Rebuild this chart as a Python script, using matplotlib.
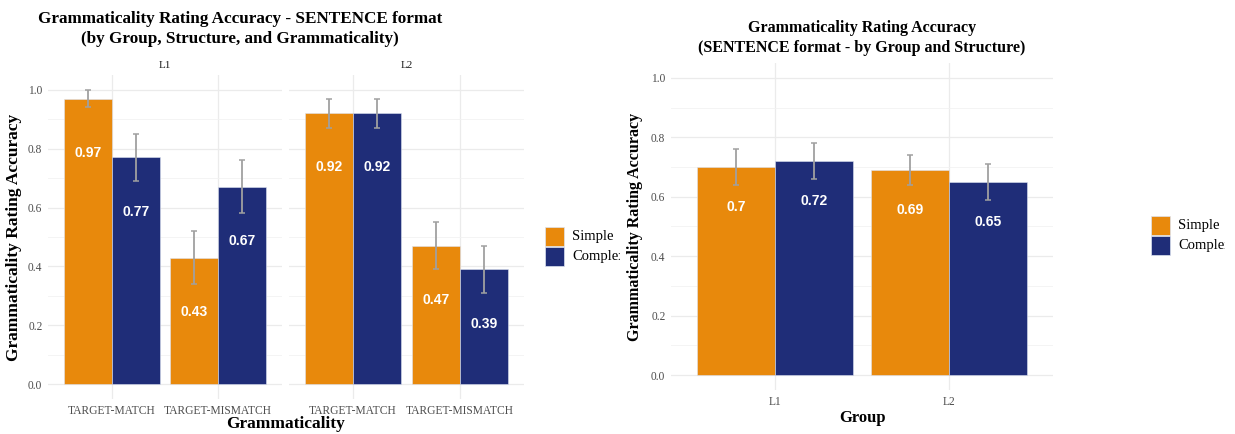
import matplotlib
matplotlib.use("Agg")
import matplotlib.pyplot as plt
import matplotlib.patches as mpatches
from matplotlib.transforms import Bbox
import numpy as np

# ---- data ----
structures = ["Simple", "Complex"]
colors = ["#E8890C", "#1F2D78"]

gram_levels = ["TARGET-MATCH", "TARGET-MISMATCH"]
l1_means = [[0.97, 0.43], [0.77, 0.67]]      # [structure][grammaticality]
l1_lo = [[0.94, 0.34], [0.69, 0.58]]
l1_hi = [[1.00, 0.52], [0.85, 0.76]]
l2_means = [[0.92, 0.47], [0.92, 0.39]]
l2_lo = [[0.87, 0.39], [0.87, 0.31]]
l2_hi = [[0.97, 0.55], [0.97, 0.47]]

groups = ["L1", "L2"]
grp_means = [[0.70, 0.69], [0.72, 0.65]]     # [structure][group]
grp_lo = [[0.64, 0.64], [0.66, 0.59]]
grp_hi = [[0.76, 0.74], [0.78, 0.71]]

W, H = 1235, 434
plt.rcParams['font.family'] = ['Liberation Serif', 'DejaVu Serif']
fig = plt.figure(figsize=(W / 100, H / 100), dpi=100)


def px_axes(x0, x1, y0, y1):
    return fig.add_axes([x0 / W, 1 - y1 / H, (x1 - x0) / W, (y1 - y0) / H])


def style(ax, ncat, show_y):
    ax.set_xlim(0.4, ncat + 0.6)
    ax.set_ylim(-0.05, 1.05)
    for s in ax.spines.values():
        s.set_visible(False)
    ax.set_yticks(np.arange(0, 1.01, 0.2))
    ax.set_yticks(np.arange(0.1, 1.0, 0.2), minor=True)
    ax.grid(True, which="major", color="#EBEBEB", lw=0.9)
    ax.grid(True, which="minor", axis="y", color="#F2F2F2", lw=0.6)
    ax.set_axisbelow(True)
    ax.tick_params(length=0, which="both", labelsize=8.3, labelcolor="#4D4D4D", pad=4)
    if not show_y:
        ax.tick_params(axis="y", labelleft=False)
    else:
        ax.set_yticklabels([f"{v:.1f}" for v in np.arange(0, 1.01, 0.2)])


def bars(ax, cats, means, lo, hi, label_off, fmt):
    x = np.arange(1, len(cats) + 1)
    for i, s in enumerate(structures):
        xs = x + (i - 0.5) * 0.45
        ax.bar(xs, means[i], width=0.45, color=colors[i], edgecolor="#DDE3F0", lw=0.4, zorder=2)
        m = np.array(means[i])
        ax.errorbar(xs, m, yerr=[m - np.array(lo[i]), np.array(hi[i]) - m], fmt="none",
                    ecolor="#A0A0A0", elinewidth=1.3, capsize=2.5, capthick=1.1, zorder=3)
        for xv, v in zip(xs, means[i]):
            ax.annotate(fmt(v), (xv, v), xytext=(0, -label_off), textcoords="offset points",
                        ha="center", va="center", color="white", fontweight="bold",
                        fontsize=10, family="Liberation Sans")
    ax.set_xticks(x)
    ax.set_xticklabels(cats)


def legend(x0, y0, clip_x):
    for i, s in enumerate(structures):
        top = y0 + i * 20
        fig.patches.append(mpatches.Rectangle((x0 / W, 1 - (top + 19) / H), 19 / W, 19 / H,
                                              transform=fig.transFigure, facecolor=colors[i],
                                              edgecolor="#DDE3F0", lw=0.5))
        t = fig.text((x0 + 27) / W, 1 - (top + 9.5) / H, s, fontsize=10.5, va="center", ha="left")
        t.set_clip_box(Bbox.from_extents(0, 0, clip_x, H))
        t.set_clip_on(True)


fmt2 = lambda v: f"{v:.2f}"
fmt_g = lambda v: f"{v:g}"

# ---- left: faceted by group ----
ax1 = px_axes(48, 282, 75, 399)
ax2 = px_axes(289, 524, 75, 399)
style(ax1, 2, True)
style(ax2, 2, False)
bars(ax1, gram_levels, l1_means, l1_lo, l1_hi, 39, fmt2)
bars(ax2, gram_levels, l2_means, l2_lo, l2_hi, 39, fmt2)
ax1.set_title("L1", fontsize=8, color="#1A1A1A", pad=5)
ax2.set_title("L2", fontsize=8, color="#1A1A1A", pad=5)
ax1.set_ylabel("Grammaticality Rating Accuracy", fontsize=12.5, fontweight="bold", labelpad=4)
fig.text(286 / W, 1 - 424 / H, "Grammaticality", fontsize=12.5, fontweight="bold",
         ha="center", va="center")
fig.text(240 / W, 1 - 29 / H,
         "Grammaticality Rating Accuracy - SENTENCE format\n(by Group, Structure, and Grammaticality)",
         fontsize=12.3, fontweight="bold", ha="center", va="center", linespacing=1.3)
legend(545, 227, 620)

# ---- right: by group ----
ax3 = px_axes(671, 1053, 63, 390)
style(ax3, 2, True)
bars(ax3, groups, grp_means, grp_lo, grp_hi, 29, fmt_g)
ax3.set_ylabel("Grammaticality Rating Accuracy", fontsize=11.5, fontweight="bold", labelpad=6)
ax3.set_xlabel("Group", fontsize=12, fontweight="bold", labelpad=2)
fig.text(862 / W, 1 - 38 / H,
         "Grammaticality Rating Accuracy\n(SENTENCE format - by Group and Structure)",
         fontsize=11.5, fontweight="bold", ha="center", va="center", linespacing=1.25)
legend(1151, 216, 1225)

fig.savefig("out.png", dpi=100, facecolor="white")
